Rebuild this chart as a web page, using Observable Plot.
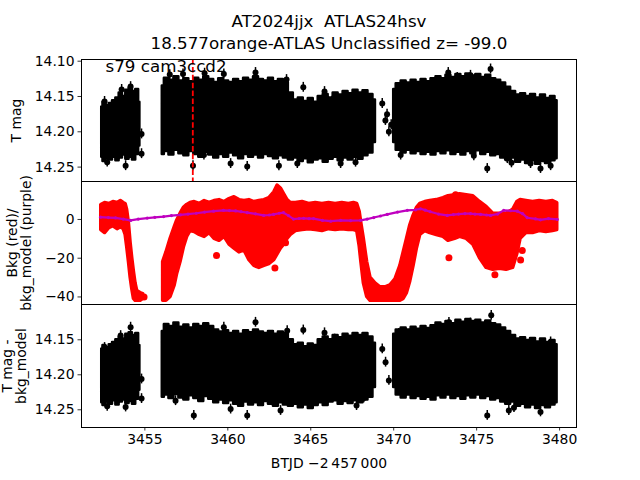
<!DOCTYPE html>
<html><head><meta charset="utf-8">
<script src="https://cdn.jsdelivr.net/npm/d3@7"></script>
<script src="https://cdn.jsdelivr.net/npm/@observablehq/plot@0.6"></script>
<style>
body{margin:0;background:#fff;}
#wrap{position:relative;width:640px;height:480px;}
#wrap svg{position:absolute;left:0;top:0;}
#wrap text{white-space:pre;}
</style></head><body><div id="wrap"></div>
<script>
// ---------- texts ----------
const title1 = "AT2024jjx  ATLAS24hsv";
const title2 = "18.577orange-ATLAS Unclassified z= -99.0";
const annot = "s79 cam3ccd2";
const yLabel1 = "T mag";
const yLabel2 = "Bkg (red)/\nbkg_model (purple)";
const yLabel3 = "T mag -\nbkg_model";
const xLabel = "BTJD \u22122\u2009457\u2009000";

// ---------- ticks ----------
const xTicks = [3455, 3460, 3465, 3470, 3475, 3480];
const yTicks1 = [14.10, 14.15, 14.20, 14.25];
const yTicks2 = [0, -20, -40];
const yTicks3 = [14.15, 14.20, 14.25];

// ---------- marker ----------
const tMarker = [3457.89];

// ---------- envelope of dense light curve (times shared by panels 1 and 3) ----------
const tEnv = [3452.40,3452.55,3452.75,3452.95,3453.15,3453.35,3453.55,3453.75,3453.95,3454.15,3454.35,3454.55,3454.70,
  3455.4,
  3456.05,3456.3,3456.6,3456.9,3457.2,3457.5,3457.8,3458.1,3458.4,3458.7,3459.0,3459.3,3459.6,3459.9,3460.2,3460.5,3460.8,3461.1,3461.4,3461.7,3462.0,3462.3,3462.6,3462.9,3463.2,3463.5,3463.8,3464.1,3464.4,3464.7,3465.0,3465.3,3465.6,3465.9,3466.2,3466.5,3466.8,3467.1,3467.4,3467.7,3468.0,3468.3,3468.6,3468.9,
  3469.4,
  3470.0,3470.3,3470.6,3470.9,3471.2,3471.5,3471.8,3472.1,3472.4,3472.7,3473.0,3473.3,3473.6,3473.9,3474.2,3474.5,3474.8,3475.1,3475.4,3475.7,3476.0,3476.3,3476.6,3476.9,3477.2,3477.5,3477.8,3478.1,3478.4,3478.7,3479.0,3479.3,3479.6,3479.85];

// panel 1: T mag, bright edge (up) and faint edge (lo)
const upT = [14.165,14.158,14.163,14.160,14.156,14.152,14.145,14.150,14.141,14.138,14.143,14.140,14.158,
  null,
  14.135,14.124,14.127,14.122,14.128,14.125,14.129,14.124,14.127,14.122,14.126,14.130,14.125,14.128,14.130,14.126,14.129,14.124,14.127,14.122,14.126,14.128,14.124,14.129,14.126,14.130,14.145,14.155,14.152,14.157,14.153,14.158,14.150,14.147,14.152,14.145,14.148,14.143,14.146,14.141,14.145,14.142,14.147,14.155,
  null,
  14.140,14.132,14.128,14.131,14.127,14.130,14.126,14.129,14.125,14.122,14.125,14.120,14.123,14.119,14.122,14.118,14.121,14.119,14.123,14.120,14.125,14.127,14.131,14.137,14.143,14.148,14.146,14.150,14.147,14.152,14.148,14.153,14.150,14.156];
const loT = [14.236,14.242,14.238,14.240,14.236,14.241,14.237,14.233,14.239,14.236,14.240,14.232,14.220,
  null,
  14.232,14.228,14.233,14.226,14.231,14.234,14.228,14.232,14.236,14.229,14.233,14.237,14.232,14.236,14.230,14.234,14.238,14.232,14.236,14.233,14.237,14.232,14.235,14.238,14.234,14.237,14.240,14.237,14.242,14.238,14.244,14.240,14.238,14.243,14.239,14.236,14.241,14.237,14.240,14.236,14.239,14.234,14.230,14.215,
  null,
  14.215,14.226,14.230,14.226,14.231,14.228,14.232,14.229,14.233,14.228,14.231,14.227,14.232,14.229,14.233,14.228,14.231,14.227,14.232,14.229,14.234,14.232,14.237,14.240,14.237,14.243,14.240,14.245,14.241,14.246,14.242,14.245,14.241,14.238];

// panel 3: T mag - bkg_model
const upC = [14.163,14.158,14.161,14.157,14.154,14.150,14.146,14.149,14.142,14.140,14.144,14.141,14.158,
  null,
  14.138,14.128,14.131,14.126,14.132,14.129,14.133,14.128,14.131,14.127,14.131,14.136,14.139,14.137,14.141,14.138,14.142,14.137,14.140,14.136,14.139,14.141,14.138,14.142,14.139,14.141,14.150,14.157,14.155,14.160,14.156,14.158,14.150,14.146,14.150,14.144,14.147,14.142,14.145,14.141,14.144,14.141,14.146,14.155,
  null,
  14.142,14.136,14.133,14.136,14.132,14.135,14.131,14.134,14.130,14.126,14.128,14.124,14.127,14.122,14.125,14.121,14.124,14.122,14.126,14.123,14.127,14.129,14.133,14.138,14.144,14.149,14.147,14.151,14.148,14.153,14.149,14.154,14.151,14.157];
const loC = [14.240,14.244,14.239,14.242,14.237,14.243,14.239,14.236,14.241,14.238,14.242,14.235,14.222,
  null,
  14.232,14.229,14.234,14.228,14.233,14.236,14.230,14.234,14.238,14.231,14.235,14.240,14.236,14.241,14.237,14.242,14.245,14.239,14.243,14.240,14.244,14.238,14.242,14.245,14.240,14.243,14.245,14.242,14.247,14.243,14.248,14.244,14.240,14.244,14.239,14.237,14.242,14.238,14.241,14.237,14.240,14.236,14.232,14.218,
  null,
  14.218,14.229,14.233,14.229,14.234,14.231,14.235,14.232,14.236,14.230,14.233,14.229,14.234,14.231,14.235,14.230,14.233,14.229,14.234,14.231,14.236,14.234,14.239,14.242,14.239,14.245,14.242,14.247,14.243,14.248,14.244,14.247,14.243,14.240];

// individual points outside the dense cloud
const outErr = 0.007;
const tOutT = [3452.57,3452.73,3453.84,3454.14,3453.6,3454.8,3454.8,3457.9,3456.5,3457.3,3458.6,3459.76,3461.67,3463.54,3464.55,3465.83,3466.39,3467.7,3458.56,3460.17,3461.17,3463.08,3464.19,3466.8,3469.31,3469.5,3469.6,3469.71,3469.85,3470.42,3473.29,3473.83,3474.63,3475.84,3475.64,3474.83,3476.85,3477.1,3478.25,3478.85,3479.46];
const mOutT = [14.157,14.243,14.248,14.136,14.140,14.203,14.231,14.248,14.119,14.118,14.117,14.118,14.116,14.126,14.137,14.143,14.152,14.243,14.233,14.245,14.249,14.248,14.245,14.245,14.160,14.184,14.175,14.200,14.190,14.233,14.116,14.123,14.120,14.111,14.252,14.234,14.238,14.244,14.245,14.252,14.248];
const tOutC = [3452.57,3452.73,3453.54,3454.14,3453.84,3454.8,3454.8,3454.34,3457.95,3456.85,3459.76,3461.67,3463.58,3464.55,3465.83,3463.18,3461.17,3460.17,3466.44,3467.76,3468.2,3469.31,3469.51,3469.71,3470.31,3473.33,3473.87,3474.63,3475.88,3475.64,3476.94,3477.25,3478.85,3479.46];
const mOutC = [14.161,14.245,14.144,14.132,14.246,14.206,14.234,14.233,14.258,14.237,14.132,14.125,14.137,14.136,14.140,14.251,14.258,14.249,14.149,14.244,14.233,14.163,14.182,14.208,14.141,14.125,14.128,14.126,14.115,14.258,14.251,14.247,14.253,14.153];

// ---------- background flux (red): band edges ----------
const tBkg = [3452.37,3452.6,3452.85,3453.1,3453.35,3453.55,3453.72,3453.84,3453.93,3454.04,3454.14,3454.24,3454.34,3454.44,3454.54,3454.74,3454.90,
  3455.5,
  3456.1,3456.3,3456.55,3456.8,3456.95,3457.15,3457.35,3457.55,3457.75,3458.0,3458.3,3458.6,3458.9,3459.2,3459.5,3459.8,3460.1,3460.4,3460.7,3461.0,3461.3,3461.6,3461.9,3462.2,3462.5,3462.8,3463.0,3463.2,3463.4,3463.6,3463.8,3464.1,3464.5,3464.9,3465.3,3465.7,3466.1,3466.5,3466.9,3467.3,3467.6,3467.80,3467.95,3468.05,3468.2,3468.4,3468.6,3468.9,3469.2,3469.5,3469.8,3470.1,3470.4,3470.6,3470.8,3471.0,3471.2,3471.4,3471.6,3471.9,3472.2,3472.6,3473.0,3473.3,3473.7,3474.0,3474.4,3474.8,3475.2,3475.6,3476.0,3476.4,3476.8,3477.2,3477.45,3477.65,3478.0,3478.4,3478.8,3479.2,3479.6,3479.86];
const bkgHi = [7.5,8.5,8,9,8.5,9.5,8.5,8,5,-2,-12,-20,-27,-33,-37,-38,-38.5,
  null,
  -22,-17,-10,-4,-0.5,3,6,7.5,8.5,9,8,9.5,8.5,9.5,10,9,10.5,11.5,10,9.5,10,9,9.5,10,11,14,17.5,16,13,10,8.5,8.5,9,8,8.5,8,8.5,8,8.5,8,8.5,8,4,-2,-10,-22,-30,-33,-35,-35,-34,-31,-24,-17,-10,-3,2,6,8,9,9.5,10,11,12,12.5,13,12.5,12,9,6.5,3,3,3,5,9,10,9.5,9,9.5,9,9.5,8.5];
const bkgLo = [-5.5,-7,-4.5,-3.5,-5,-4,-5,-8,-14,-22,-30,-36,-41,-42,-42,-42,-41,
  null,
  -42,-42,-40,-34,-28,-22,-14.5,-9,-6,-6.5,-8,-9,-7,-10,-11,-9,-13,-15,-17,-16,-21,-24,-25,-24,-23,-21,-18,-15,-13,-10,-8,-6,-5.5,-5,-5.5,-6,-5,-5.5,-5,-5.5,-5.5,-6,-14,-22,-33,-40,-42,-42,-42,-42,-42,-42,-42,-41,-38,-32,-24,-15,-8,-6,-7,-8,-9,-11,-10,-9,-10,-13,-20,-25,-26,-25.5,-26,-25,-18,-10,-7,-7,-6,-6.5,-6,-5.5];
const tBkgOut = [3459.32,3462.84,3473.33,3473.73,3476.1,3477.65,3477.75,3463.48,3454.95];
const bkgOut = [-18.6,-25,-19.8,12.8,-28.6,-20.9,-16,-12,-40];

// ---------- background model (purple) ----------
const tModel = [3452.33,3452.8,3453.23,3453.7,3454.14,3454.6,3455.14,3455.6,3456.13,3456.6,3457.15,3457.6,3458.1,3458.6,3459.14,3459.74,3460.1,3460.47,3460.8,3461.17,3461.67,3462.16,3462.5,3462.76,3463.1,3463.36,3463.66,3463.96,3464.3,3464.57,3464.9,3465.17,3465.71,3466.2,3466.8,3467.4,3468.0,3468.4,3468.8,3469.2,3469.61,3470.23,3470.82,3471.32,3471.62,3471.9,3472.2,3472.7,3473.23,3473.6,3473.91,3474.3,3474.63,3474.9,3475.24,3475.6,3475.84,3476.26,3476.63,3477.05,3477.45,3477.77,3478.05,3478.55,3478.85,3479.33,3479.86];
const model = [1.2,1.0,0.8,0.2,-0.5,0.2,0.7,1.1,1.5,2.0,2.4,2.8,3.2,3.8,4.3,4.7,4.6,4.4,4.0,3.5,2.9,2.1,2.3,2.6,3.2,3.5,2.0,0.2,0.5,0.6,0.4,0.4,-0.5,-0.9,-0.5,-0.6,-0.5,0.2,1.0,1.8,2.6,3.8,4.7,5.0,5.5,4.8,4.0,2.8,2.1,2.5,2.8,3.0,3.0,2.8,2.6,2.3,2.1,2.8,4.7,4.5,4.3,3.0,0.9,0.3,-0.2,0.4,0.0];

// ---------- tables ----------
const env = tEnv.map((t, i) => ({t, upT: upT[i], loT: loT[i], upC: upC[i], loC: loC[i]}));
const outT = tOutT.map((t, i) => ({t, m: mOutT[i]}));
const outC = tOutC.map((t, i) => ({t, m: mOutC[i]}));
const bkg = tBkg.map((t, i) => ({t, hi: bkgHi[i], lo: bkgLo[i]}));
const bkgPts = tBkgOut.map((t, i) => ({t, v: bkgOut[i]}));
const mdl = tModel.map((t, i) => ({t, v: model[i]}));

const FONT = '"DejaVu Sans", sans-serif';
const common = {
  width: 640, height: 480, marginLeft: 81, marginRight: 64,
  style: {fontFamily: FONT, fontSize: "13.9px", background: "transparent", overflow: "visible", color: "black"}
};
const xScale = {domain: [3451.18, 3481.02]};

const wrap = document.getElementById("wrap");

// Panel 1
const p1 = Plot.plot({
  ...common, marginTop: 59, marginBottom: 299,
  x: {...xScale, axis: null},
  y: {domain: [14.2704, 14.0976]},
  marks: [
    Plot.areaY(env, {x: "t", y1: "loT", y2: "upT", curve: "step", fill: "black", stroke: "black", strokeWidth: 2.5, strokeLinejoin: "round", clip: true}),
    Plot.ruleX(outT, {x: "t", y1: d => d.m - outErr, y2: d => d.m + outErr, stroke: "black", strokeWidth: 1.5, clip: true}),
    Plot.dot(outT, {x: "t", y: "m", r: 3, fill: "black", clip: true}),
    Plot.ruleX(tMarker, {x: d => d, stroke: "red", strokeWidth: 1.8, strokeDasharray: "5.5,2.4"}),
    Plot.frame({stroke: "black", strokeWidth: 1}),
    Plot.axisY(yTicks1, {tickSize: 3.5, tickPadding: 3.5, tickFormat: d3.format(".2f"), label: null, strokeWidth: 0.8}),
    Plot.text([annot], {text: d => d, frameAnchor: "top-left", dx: 24, dy: 12.5, lineAnchor: "bottom", textAnchor: "start", fontSize: 16.7}),
    Plot.text([title1], {text: d => d, frameAnchor: "top", dy: -32.5, lineAnchor: "bottom", fontSize: 16.7}),
    Plot.text([title2], {text: d => d, frameAnchor: "top", dy: -10.5, lineAnchor: "bottom", fontSize: 16.7}),
    Plot.text([yLabel1], {text: d => d, frameAnchor: "left", dx: 20.7 - 81, rotate: -90, lineAnchor: "bottom", textAnchor: "middle", fontSize: 13.9})
  ]
});

// Panel 2
const p2 = Plot.plot({
  ...common, marginTop: 181, marginBottom: 176,
  x: {...xScale, axis: null},
  y: {domain: [-43.9, 19.6]},
  marks: [
    Plot.areaY(bkg, {x: "t", y1: "lo", y2: "hi", fill: "red", stroke: "red", strokeWidth: 3.5, strokeLinejoin: "round", clip: true}),
    Plot.dot(bkgPts, {x: "t", y: "v", r: 3.5, fill: "red", clip: true}),
    Plot.line(mdl, {x: "t", y: "v", stroke: "#bf00bf", strokeWidth: 2.2, clip: true}),
    Plot.dot(mdl, {x: "t", y: "v", r: 1.6, fill: "#bf00bf", clip: true}),
    Plot.frame({stroke: "black", strokeWidth: 1}),
    Plot.axisY(yTicks2, {tickSize: 3.5, tickPadding: 3.5, tickFormat: d3.format("d"), label: null, strokeWidth: 0.8}),
    Plot.text([yLabel2], {text: d => d, frameAnchor: "left", dx: 30 - 81, rotate: -90, lineAnchor: "bottom", textAnchor: "middle", lineHeight: 0.97, fontSize: 13.9})
  ]
});

// Panel 3
const p3 = Plot.plot({
  ...common, marginTop: 304, marginBottom: 53,
  x: xScale,
  y: {domain: [14.2753, 14.0996]},
  marks: [
    Plot.areaY(env, {x: "t", y1: "loC", y2: "upC", curve: "step", fill: "black", stroke: "black", strokeWidth: 2.5, strokeLinejoin: "round", clip: true}),
    Plot.ruleX(outC, {x: "t", y1: d => d.m - outErr, y2: d => d.m + outErr, stroke: "black", strokeWidth: 1.5, clip: true}),
    Plot.dot(outC, {x: "t", y: "m", r: 3, fill: "black", clip: true}),
    Plot.frame({stroke: "black", strokeWidth: 1}),
    Plot.axisY(yTicks3, {tickSize: 3.5, tickPadding: 3.5, tickFormat: d3.format(".2f"), label: null, strokeWidth: 0.8}),
    Plot.axisX(xTicks, {tickSize: 3.5, tickPadding: 3.5, tickFormat: d3.format("d"), label: null, strokeWidth: 0.8}),
    Plot.text([yLabel3], {text: d => d, frameAnchor: "left", dx: 25 - 81, rotate: -90, lineAnchor: "bottom", textAnchor: "middle", lineHeight: 0.97, fontSize: 13.9}),
    Plot.text([xLabel], {text: d => d, frameAnchor: "bottom", dy: 40, lineAnchor: "bottom", fontSize: 13.9})
  ]
});

wrap.append(p1, p2, p3);
</script></body></html>
